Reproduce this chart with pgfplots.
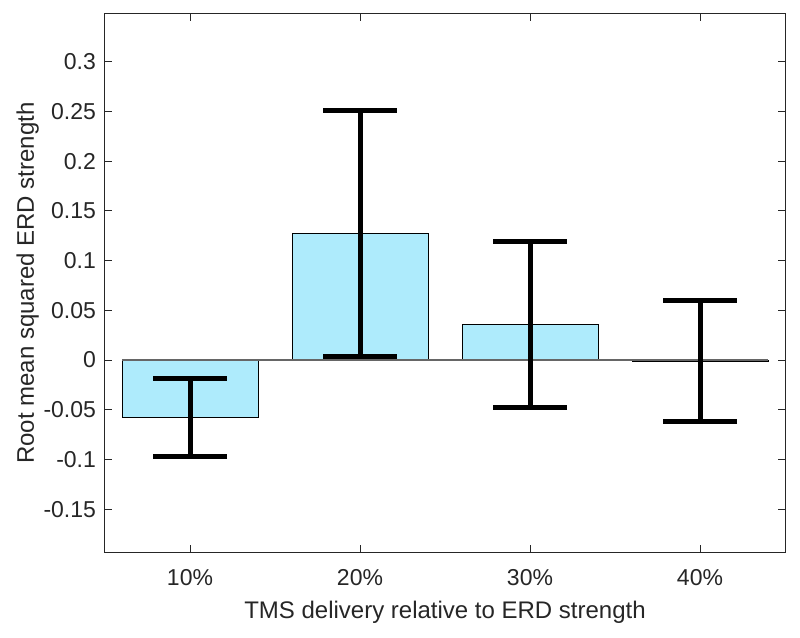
\documentclass[border=0pt]{standalone}
\usepackage{pgfplots}
\pgfplotsset{compat=1.18}
\usepackage{fontspec}
\setmainfont{Liberation Sans}
\definecolor{barfill}{RGB}{174,235,252}
\definecolor{axgray}{RGB}{38,38,38}
\begin{document}
\begin{tikzpicture}
\begin{axis}[
  scale only axis,
  width=340pt, height=269pt,
  xmin=0.5, xmax=4.5,
  ymin=-0.193, ymax=0.348,
  xtick={1,2,3,4},
  xticklabels={10\%,20\%,30\%,40\%},
  ytick={-0.15,-0.1,-0.05,0,0.05,0.1,0.15,0.2,0.25,0.3},
  yticklabels={-0.15,-0.1,-0.05,0,0.05,0.1,0.15,0.2,0.25,0.3},
  tick align=inside,
  major tick length=3.5pt,
  tick style={axgray, line width=0.5pt},
  axis line style={axgray, line width=0.5pt},
  every tick label/.append style={font=\fontsize{11.5}{13}\selectfont, text=axgray},
  xticklabel style={yshift=-5pt},
  yticklabel style={xshift=-1pt},
  xlabel={TMS delivery relative to ERD strength},
  ylabel={Root mean squared ERD strength},
  label style={font=\fontsize{12}{14}\selectfont, text=axgray},
  xlabel style={yshift=-1pt},
  ylabel style={yshift=-4.5pt},
  clip=false,
]
\addplot[ybar, bar width=0.8, bar shift=0pt, fill=barfill, draw=black, line width=0.4pt]
  coordinates {(1,-0.058) (2,0.1275) (3,0.0355) (4,-0.001)};
\addplot[gray!80!black, line width=0.6pt, forget plot] coordinates {(0.6,0) (4.4,0)};
\addplot[draw=none, mark=none,
  error bars/.cd, y dir=both, y explicit,
  error bar style={black, line width=2.5pt},
  error mark options={rotate=90, mark size=18.5pt, line width=2.5pt, black}]
  coordinates {
    (1,-0.058) +- (0,0.039)
    (2,0.1275) +- (0,0.1235)
    (3,0.0355) +- (0,0.0835)
    (4,-0.001) +- (0,0.061)
  };
\end{axis}
\pgfresetboundingbox
\path ([shift={(-52.5pt,-42.5pt)}]current axis.south west) rectangle ([shift={(7.5pt,7pt)}]current axis.north east);
\end{tikzpicture}
\end{document}
